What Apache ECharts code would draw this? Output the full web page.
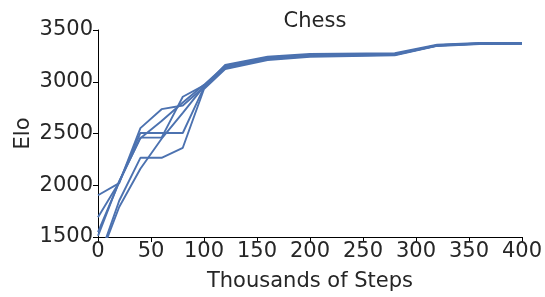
<!DOCTYPE html>
<html><head><meta charset="utf-8">
<script src="https://cdn.jsdelivr.net/npm/echarts@6/dist/echarts.min.js"></script>
<style>html,body{margin:0;padding:0;background:#fff}#c{width:545px;height:297px}</style>
</head><body><div id="c"></div>
<script>
const title = "Chess";
const xName = "Thousands of Steps";
const yName = "Elo";
const steps = [0, 20, 40, 60, 80, 100, 120, 160, 200, 280, 320, 360, 400];
const runA = [1903, 2020, 2552, 2735, 2770, 2950, 3162, 3242, 3268, 3275, 3357, 3374, 3374];
const runB = [1690, 2030, 2505, 2505, 2505, 2945, 3150, 3230, 3262, 3268, 3352, 3370, 3370];
const runC = [1547, 2030, 2460, 2460, 2855, 2965, 3140, 3222, 3250, 3262, 3350, 3368, 3370];
const runD = [1265, 1850, 2265, 2265, 2362, 2930, 3122, 3210, 3240, 3256, 3346, 3364, 3366];
const runE = [1510, 2040, 2455, 2620, 2800, 2970, 3155, 3235, 3258, 3266, 3354, 3370, 3371];
const runF = [1255, 1790, 2160, 2450, 2700, 2955, 3130, 3218, 3248, 3260, 3350, 3366, 3369];
const runs = [runA, runB, runC, runD, runE, runF];
const xTicks = {min: 0, max: 400, interval: 50};
const yTicks = {min: 1500, max: 3500, interval: 500};

const txt = '#262626';
const font = 'DejaVu Sans';
const fs = 21;
const chart = echarts.init(document.getElementById('c'), null, {renderer: 'canvas'});
chart.setOption({
  animation: false,
  title: {text: title, left: 310, top: 6, textAlign: 'center',
    textStyle: {fontFamily: font, fontSize: fs, fontWeight: 'normal', color: txt}},
  grid: {left: 98, right: 23, top: 30, bottom: 56, containLabel: false},
  xAxis: {type: 'value', min: xTicks.min, max: xTicks.max, interval: xTicks.interval,
    name: xName, nameLocation: 'middle', nameGap: 34, nameMoveOverlap: false,
    nameTextStyle: {fontFamily: font, fontSize: fs, color: txt},
    axisLine: {show: true, lineStyle: {color: '#000', width: 1}},
    axisTick: {show: true, inside: false, length: 5, lineStyle: {color: '#000'}},
    axisLabel: {fontFamily: font, fontSize: fs, color: txt, margin: 4, formatter: v => String(v)},
    splitLine: {show: false}},
  yAxis: {type: 'value', min: yTicks.min, max: yTicks.max, interval: yTicks.interval,
    name: yName, nameLocation: 'middle', nameGap: 64, nameMoveOverlap: false,
    nameTextStyle: {fontFamily: font, fontSize: fs, color: txt},
    axisLine: {show: true, lineStyle: {color: '#000', width: 1}},
    axisTick: {show: true, inside: false, length: 5, lineStyle: {color: '#000'}},
    axisLabel: {fontFamily: font, fontSize: fs, color: txt, margin: 5, formatter: v => String(v)},
    splitLine: {show: false}},
  series: runs.map((r, i) => ({
    type: 'line', name: 'run' + i, showSymbol: false, symbol: 'none', clip: true,
    data: steps.map((s, j) => [s, r[j]]),
    lineStyle: {color: '#4c72b0', width: 1.9}, itemStyle: {color: '#4c72b0'}
  }))
});
</script></body></html>
